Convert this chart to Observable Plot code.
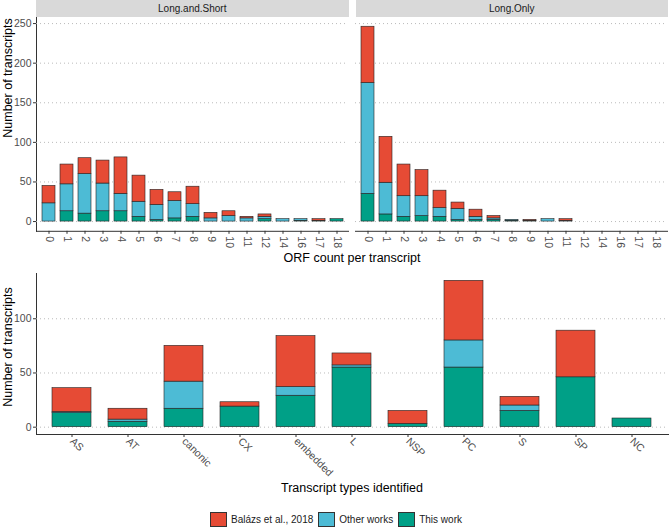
<!DOCTYPE html>
<html>
<head>
<meta charset="utf-8">
<script src="https://cdn.jsdelivr.net/npm/d3@7"></script>
<script src="https://cdn.jsdelivr.net/npm/@observablehq/plot@0.6"></script>
<style>
  html, body { margin: 0; padding: 0; background: #fff; }
  #root { position: relative; width: 669px; height: 528px; font-family: "Liberation Sans", Arial, sans-serif; color: #000; overflow: hidden; }
  #root svg { overflow: visible; }
  .strip { position: absolute; top: 0; height: 17px; background: #d9d9d9; font-size: 10px; color: #1a1a1a; display: flex; align-items: center; justify-content: center; }
  .title { position: absolute; font-size: 12.5px; white-space: nowrap; transform: translate(-50%, -50%); }
  .ytitle { position: absolute; font-size: 12.5px; white-space: nowrap; transform: translate(-50%, -50%) rotate(-90deg); }
  .legend { position: absolute; left: 0; width: 669px; top: 512px; display: flex; justify-content: center; align-items: center; font-size: 10px; color: #1a1a1a; }
  .legend .sw { width: 15px; height: 13px; border: 1px solid #333; margin: 0 4px 0 4px; }
  .legend .item { display: flex; align-items: center; margin-right: 1px; }
  g[aria-label$="tick label"] { fill: #4d4d4d; font-size: 10.5px; }
</style>
</head>
<body>
<div id="root"></div>
<script>
// ---------- data ----------
const sources = ["Balázs et al., 2018", "Other works", "This work"];
const sourceColors = ["#E64B35", "#4DBBD5", "#00A087"];
const stackOrder = ["This work", "Other works", "Balázs et al., 2018"];

const panels = ["Long.and.Short", "Long.Only"];
const orfCounts = ["0","1","2","3","4","5","6","7","8","9","10","11","12","14","16","17","18"];
const lsThisWork = [0,13,10,13,13,6,2,4,6,0,0,0,3,0,1,1,3];
const lsOtherWorks = [23,34,50,35,22,19,19,22,16,4,7,4,3,3,2,0,0];
const lsBalazs = [22,25,20,29,46,33,19,11,22,7,6,2,3,0,0,2,0];
const loThisWork = [35,9,6,7,6,2,2,2,1,1,0,0,0,0,0,0,0];
const loOtherWorks = [140,40,26,25,11,14,4,2,1,0,3,1,0,0,0,0,0];
const loBalazs = [71,58,40,33,22,8,9,3,0,1,0,2,0,0,0,0,0];

const transcriptTypes = ["AS","AT","canonic","CX","embedded","L","NSP","PC","S","SP","NC"];
const typeThisWork = [13,5,17,19,29,55,3,55,15,46,8];
const typeOtherWorks = [1,2,25,0,8,2,0,25,5,0,0];
const typeBalazs = [22,10,33,4,47,11,12,55,8,43,0];

const topTicks = [0,50,100,150,200,250];
const bottomTicks = [0,50,100];

// ---------- tables ----------
function rows(cats, series, extra) {
  const out = [];
  series.forEach(([src, vals]) => {
    cats.forEach((c, i) => { if (vals[i] > 0) out.push({cat: c, source: src, n: vals[i], ...extra}); });
  });
  return out;
}
const topData = [
  ...rows(orfCounts, [["This work", lsThisWork], ["Other works", lsOtherWorks], ["Balázs et al., 2018", lsBalazs]], {panel: panels[0]}),
  ...rows(orfCounts, [["This work", loThisWork], ["Other works", loOtherWorks], ["Balázs et al., 2018", loBalazs]], {panel: panels[1]})
];
const bottomData = rows(transcriptTypes, [["This work", typeThisWork], ["Other works", typeOtherWorks], ["Balázs et al., 2018", typeBalazs]], {});

const root = document.getElementById("root");
const font = {fontFamily: "Liberation Sans, Arial, sans-serif", fontSize: "10.5px", color: "#333", background: "transparent", overflow: "visible"};
const colorScale = {domain: sources, range: sourceColors};
const grid = (t) => Plot.gridY(t, {stroke: "#b3b3b3", strokeOpacity: 1, strokeDasharray: "1,3", strokeWidth: 0.9});

function maxTotal(arrs) { return d3.max(arrs[0].map((_, i) => d3.sum(arrs, a => a[i]))); }
const topMax = Math.max(maxTotal([lsThisWork, lsOtherWorks, lsBalazs]), maxTotal([loThisWork, loOtherWorks, loBalazs]));
const botMax = maxTotal([typeThisWork, typeOtherWorks, typeBalazs]);

// ---------- top faceted plot ----------
const topPlot = Plot.plot({
  width: 669, height: 252,
  marginLeft: 36, marginRight: 1, marginTop: 16.5, marginBottom: 21.2,
  style: font,
  fx: {domain: panels, axis: null, label: null, paddingInner: 0.0219, paddingOuter: 0},
  x: {domain: orfCounts, paddingInner: 0.3, paddingOuter: 0.25, tickRotate: 90, tickSize: 3, tickPadding: 2, label: null, line: true},
  y: {domain: [-0.05 * topMax, 1.05 * topMax], ticks: topTicks, tickSize: 3, tickPadding: 2, label: null, line: true},
  color: colorScale,
  marks: [
    grid(topTicks),
    Plot.barY(topData, {fx: "panel", x: "cat", y: "n", fill: "source", order: stackOrder, stroke: "#222", strokeWidth: 0.6})
  ]
});
topPlot.style.position = "absolute"; topPlot.style.left = "0px"; topPlot.style.top = "0px";
root.appendChild(topPlot);

// ---------- bottom plot ----------
const botPlot = Plot.plot({
  width: 669, height: 220,
  marginLeft: 36, marginRight: 1, marginTop: 13, marginBottom: 46,
  style: font,
  x: {domain: transcriptTypes, paddingInner: 0.3, paddingOuter: 0.25, tickRotate: 45, tickSize: 3, tickPadding: 2, label: null, line: true},
  y: {domain: [-0.05 * botMax, 1.05 * botMax], ticks: bottomTicks, tickSize: 3, tickPadding: 2, label: null, line: true},
  color: colorScale,
  marks: [
    grid(bottomTicks),
    Plot.barY(bottomData, {x: "cat", y: "n", fill: "source", order: stackOrder, stroke: "#222", strokeWidth: 0.6})
  ]
});
botPlot.style.position = "absolute"; botPlot.style.left = "0px"; botPlot.style.top = "260px";
root.appendChild(botPlot);

// ---------- strips, titles, legend ----------
function add(html) { const d = document.createElement("div"); d.innerHTML = html; root.appendChild(d.firstElementChild); }
add(`<div class="strip" style="left:36px;width:312.5px">${panels[0]}</div>`);
add(`<div class="strip" style="left:355.5px;width:312.5px">${panels[1]}</div>`);
add(`<div class="title" style="left:352px;top:258px">ORF count per transcript</div>`);
add(`<div class="title" style="left:352px;top:488px">Transcript types identified</div>`);
add(`<div class="ytitle" style="left:8px;top:78px">Number of transcripts</div>`);
add(`<div class="ytitle" style="left:8px;top:347px">Number of transcripts</div>`);
const legend = document.createElement("div");
legend.className = "legend";
sources.forEach((s, i) => {
  const it = document.createElement("div");
  it.className = "item";
  it.innerHTML = `<span class="sw" style="background:${sourceColors[i]}"></span><span>${s}</span>`;
  legend.appendChild(it);
});
root.appendChild(legend);
</script>
</body>
</html>
